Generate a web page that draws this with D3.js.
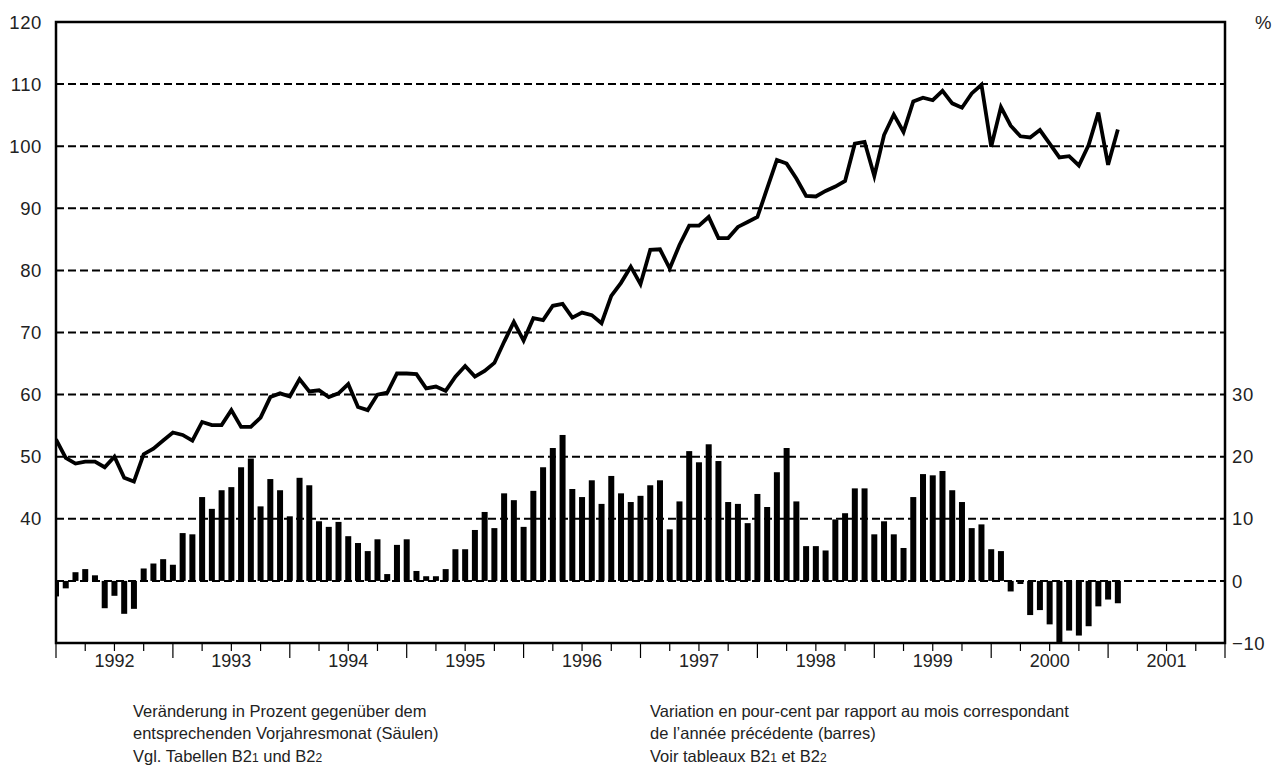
<!DOCTYPE html>
<html>
<head>
<meta charset="utf-8">
<script src="https://cdn.jsdelivr.net/npm/d3@7"></script>
<style>
  body { margin: 0; background: #fff; }
  text { font-family: "Liberation Sans", Arial, sans-serif; fill: #222; }
</style>
</head>
<body>
<svg id="chart"></svg>
<script>
// index level (line, left axis), monthly from Jan 1992
const indexValues = [
  52.8, 49.8, 48.9, 49.2, 49.2, 48.3, 50.0, 46.6, 46.0, 50.4, 51.3, 52.6,
  53.9, 53.5, 52.6, 55.6, 55.1, 55.1, 57.5, 54.8, 54.8, 56.3, 59.6, 60.2,
  59.7, 62.5, 60.5, 60.7, 59.6, 60.2, 61.7, 58.0, 57.5, 60.0, 60.3, 63.4,
  63.4, 63.3, 61.0, 61.3, 60.6, 62.9, 64.6, 62.9, 63.8, 65.1, 68.5, 71.7,
  68.7, 72.3, 72.0, 74.3, 74.6, 72.4, 73.2, 72.8, 71.5, 75.9, 78.0, 80.6,
  77.8, 83.3, 83.4, 80.3, 84.1, 87.2, 87.2, 88.6, 85.2, 85.2, 87.0, 87.8,
  88.6, 93.2, 97.8, 97.2, 94.8, 92.0, 91.9, 92.8, 93.5, 94.4, 100.4, 100.7,
  95.2, 101.8, 105.1, 102.3, 107.2, 107.8, 107.4, 108.9, 106.9, 106.2, 108.5, 109.9,
  99.9, 106.3, 103.3, 101.6, 101.4, 102.6, 100.4, 98.2, 98.4, 96.9, 100.2, 105.4,
  97.0, 102.7
];

// change vs same month of previous year in % (bars, right axis)
const changeValues = [
  -2.5, -1.2, 1.4, 1.9, 0.9, -4.4, -2.4, -5.3, -4.5, 2.0, 2.8, 3.5,
  2.6, 7.7, 7.5, 13.5, 11.6, 14.6, 15.1, 18.3, 19.7, 12.0, 16.4, 14.6,
  10.4, 16.6, 15.4, 9.6, 8.7, 9.5, 7.2, 6.1, 4.8, 6.7, 1.1, 5.8,
  6.7, 1.6, 0.75, 0.75, 1.9, 5.1, 5.1, 8.2, 11.1, 8.5, 14.1, 13.0,
  8.7, 14.5, 18.3, 21.4, 23.5, 14.8, 13.5, 16.2, 12.4, 16.9, 14.1, 12.7,
  13.7, 15.4, 16.2, 8.3, 12.8, 20.9, 19.1, 22.0, 19.3, 12.7, 12.4, 9.3,
  14.0, 11.9, 17.5, 21.4, 12.8, 5.6, 5.6, 4.9, 9.9, 10.9, 14.9, 14.9,
  7.5, 9.6, 7.5, 5.3, 13.5, 17.2, 17.0, 17.7, 14.6, 12.7, 8.5, 9.1,
  5.1, 4.8, -1.7, -0.5, -5.5, -4.7, -7.0, -9.9, -8.0, -8.8, -7.3, -4.1,
  -3.0, -3.6
];

const years = [1992, 1993, 1994, 1995, 1996, 1997, 1998, 1999, 2000, 2001];
const leftTicks = [40, 50, 60, 70, 80, 90, 100, 110, 120];
const rightTicks = [-10, 0, 10, 20, 30];
const gridValues = [30, 40, 50, 60, 70, 80, 90, 100, 110];

const noteDe = [
  [["Veränderung in Prozent gegenüber dem"]],
  [["entsprechenden Vorjahresmonat (Säulen)"]],
  [["Vgl. Tabellen B2"], ["1", "sub"], [" und B2"], ["2", "sub"]]
];
const noteFr = [
  [["Variation en pour-cent par rapport au mois correspondant"]],
  [["de l’année précédente (barres)"]],
  [["Voir tableaux B2"], ["1", "sub"], [" et B2"], ["2", "sub"]]
];

const width = 1277, height = 771;
const plotLeft = 56, plotRight = 1225, plotTop = 22, plotBottom = 643;

const svg = d3.select("#chart")
    .attr("width", width)
    .attr("height", height);

// months since Jan 1992
const x = d3.scaleLinear().domain([0, years.length * 12]).range([plotLeft, plotRight]);
const yLeft = d3.scaleLinear().domain([20, 120]).range([plotBottom, plotTop]);
const yRight = d3.scaleLinear().domain([-10, 90]).range([plotBottom, plotTop]);

svg.append("clipPath").attr("id", "plot-clip")
    .append("rect")
    .attr("x", plotLeft).attr("y", plotTop)
    .attr("width", plotRight - plotLeft).attr("height", plotBottom - plotTop);

// dashed grid
svg.append("g")
    .selectAll("line")
    .data(gridValues)
    .join("line")
    .attr("x1", plotLeft).attr("x2", plotRight)
    .attr("y1", d => yLeft(d)).attr("y2", d => yLeft(d))
    .attr("stroke", "#000")
    .attr("stroke-width", 2)
    .attr("stroke-dasharray", "8,4");

const plot = svg.append("g").attr("clip-path", "url(#plot-clip)");

// bars
const barW = 6;
plot.append("g")
    .selectAll("rect")
    .data(changeValues)
    .join("rect")
    .attr("x", (d, i) => x(i) - barW / 2)
    .attr("width", barW)
    .attr("y", d => yRight(Math.max(0, d)))
    .attr("height", d => Math.abs(yRight(d) - yRight(0)))
    .attr("fill", "#000");

// index line
const line = d3.line()
    .x((d, i) => x(i))
    .y(d => yLeft(d));

plot.append("path")
    .datum(indexValues)
    .attr("d", line)
    .attr("fill", "none")
    .attr("stroke", "#000")
    .attr("stroke-width", 3.8)
    .attr("stroke-linejoin", "miter");

// frame
svg.append("rect")
    .attr("x", plotLeft).attr("y", plotTop)
    .attr("width", plotRight - plotLeft).attr("height", plotBottom - plotTop)
    .attr("fill", "none")
    .attr("stroke", "#000")
    .attr("stroke-width", 2.5);

// left axis labels
svg.append("g")
    .selectAll("text")
    .data(leftTicks)
    .join("text")
    .attr("x", 42)
    .attr("y", d => yLeft(d))
    .attr("dy", "0.36em")
    .attr("text-anchor", "end")
    .style("font-size", "18.5px")
    .style("letter-spacing", "0.6px")
    .text(d => d);

// right axis labels
svg.append("g")
    .selectAll("text")
    .data(rightTicks)
    .join("text")
    .attr("x", 1232)
    .attr("y", d => yRight(d))
    .attr("dy", "0.36em")
    .style("font-size", "18.5px")
    .style("letter-spacing", "0.6px")
    .text(d => d < 0 ? "\u2212" + Math.abs(d) : d);

svg.append("text")
    .attr("x", 1255)
    .attr("y", plotTop)
    .attr("dy", "0.36em")
    .style("font-size", "18.5px")
    .text("%");

// x ticks: long at year starts, short at quarters
const quarterTicks = d3.range(0, years.length * 12 + 1, 3);
svg.append("g")
    .selectAll("line")
    .data(quarterTicks)
    .join("line")
    .attr("x1", d => x(d)).attr("x2", d => x(d))
    .attr("y1", plotBottom)
    .attr("y2", d => plotBottom + (d % 12 === 0 ? 15 : 8))
    .attr("stroke", "#000")
    .attr("stroke-width", 1.2);

svg.append("g")
    .selectAll("text")
    .data(years)
    .join("text")
    .attr("x", (d, i) => x(i * 12 + 6))
    .attr("y", 667)
    .attr("text-anchor", "middle")
    .style("font-size", "18px")
    .text(d => d);

// footnotes
function writeNote(lines, x0) {
    lines.forEach((parts, li) => {
        const t = svg.append("text")
            .attr("x", x0)
            .attr("y", 717 + li * 22.3)
            .style("font-size", "16.5px");
        parts.forEach(p => {
            t.append("tspan")
                .style("font-size", p[1] === "sub" ? "12px" : null)
                .text(p[0]);
        });
    });
}
writeNote(noteDe, 133);
writeNote(noteFr, 650);
</script>
</body>
</html>
